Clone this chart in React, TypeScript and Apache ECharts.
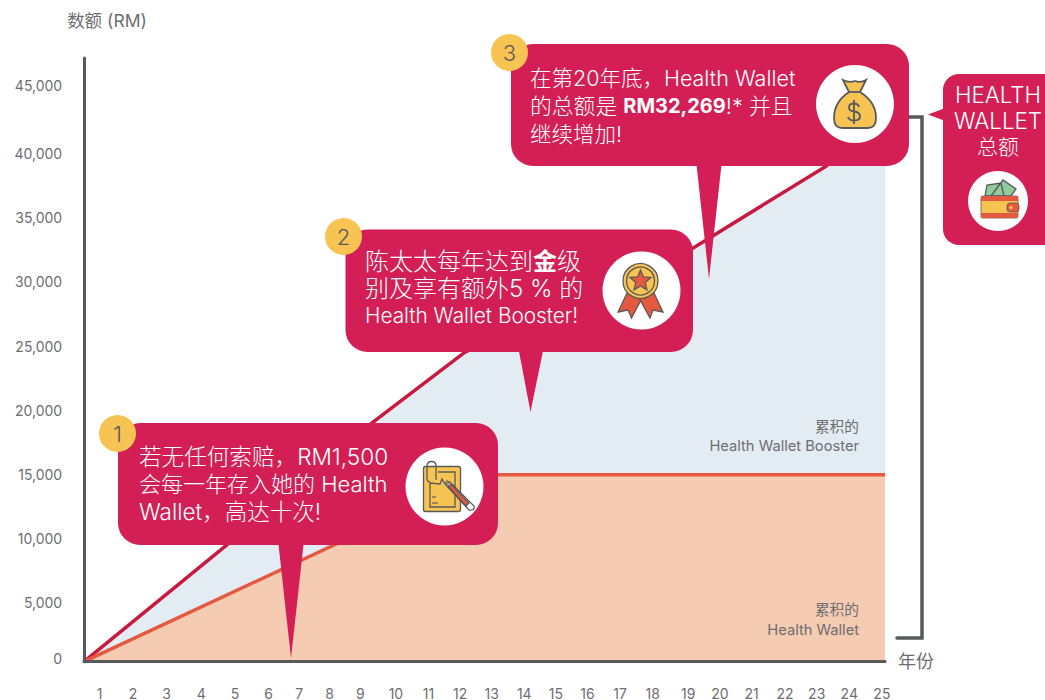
import React, { useEffect, useRef } from "react";
import * as echarts from "echarts";

const totalYears = [0, 4.45, 8.98, 11.89, 19.0, 23.16, 25];
const totalValues = [0, 9344, 19130, 24827, 33170, 39750, 43670];
const walletYears = [0, 12.5, 25];
const walletValues = [0, 15000, 15000];
const yearLabels = ["1","2","3","4","5","6","7","8","9","10","11","12","13","14","15","16","17","18","19","20","21","22","23","24","25"];
const yearLabelNudge = [-1,0,1,3,4,5,3,1,-1,2,2,1,0,0,-1,-2,-2,-2,1,0,-1,0,-1,-1,-1];
const amountTicks = [0, 5000, 10000, 15000, 20000, 25000, 30000, 35000, 40000, 45000, 50000];

const CRIMSON = "#d31f55";
const GREY = "#58595b";
const TXT = "#6d6e71";
const YEL = "#f7c353";
const RED = "#e4593f";
const FONT = "Inter, 'Noto Sans CJK SC', sans-serif";

const shapes: Record<string, string> = {
  bag: "M843 80 Q849 83 855 81 Q861 83 866 80 L860 92 Q876 102 876 118 Q876 128 868 128 L842 128 Q834 128 834 118 Q834 102 849 92 Z",
  bagNeck: "M848.5 92 H860.5",
  dollar: "M859 107 Q858 103.5 854 103.5 Q849 103.5 849 107.5 Q849 111 854 111.5 Q860 112 860 116.5 Q860 120.5 854 120.5 Q849 120.5 848 117 M854 100 V124",
  clip: "M430 482 Q427 482 427 478 V466 Q427 461.5 431.5 461.5 Q436 461.5 436 466 V480",
  paper: "M438 472 H455 V507 H430 V483 L440 484 L442 479 L445 484 L447 481 L451 483",
  marks: "M432 497 H436 M432 503 H438",
  wrap: "M446 485 L450 482 L474 506 Q475 511 469 510 Z",
  bills: "M985 196 L987 185 L1001 183 L1004 196 Z M991 196 L1003 180 L1016 189 L1011 196 Z",
};
Object.entries(shapes).forEach(([k, d]) =>
  echarts.graphic.registerShape(k, echarts.graphic.extendPath(d, {}))
);

const bubble = (x: number, y: number, w: number, h: number, tail: number[][]) => [
  { type: "polygon", shape: { points: tail }, style: { fill: CRIMSON } },
  { type: "rect", shape: { x, y, width: w, height: h, r: 22 }, style: { fill: CRIMSON } },
];
const badge = (cx: number, cy: number, n: string) => [
  { type: "circle", shape: { cx, cy, r: 18.5 }, style: { fill: YEL } },
  { type: "text", x: cx, y: cy, style: { text: n, fill: GREY, fontSize: 22, fontWeight: 300, fontFamily: FONT, align: "center", verticalAlign: "middle" } },
];
const white = (x: number, y: number, text: string, size = 21, align = "left", boldSize = size) => ({
  type: "text", x, y,
  style: {
    text, fill: "#fff", fontSize: size, fontWeight: 300, fontFamily: FONT, align, verticalAlign: "middle",
    rich: { b: { fontWeight: 700, fontSize: boldSize, fontFamily: FONT, fill: "#fff" } },
  },
});
const disc = (cx: number, cy: number, r: number) => ({ type: "circle", shape: { cx, cy, r }, style: { fill: "#fff" } });
const note = (y: number, text: string) => ({
  type: "text", x: 859, y,
  style: { text, fill: TXT, fontSize: 14.7, fontFamily: FONT, align: "right", verticalAlign: "middle" },
});
const starPoints = (cx: number, cy: number, R: number, r: number) => {
  const p: number[][] = [];
  for (let i = 0; i < 10; i++) {
    const a = -Math.PI / 2 + (i * Math.PI) / 5;
    const q = i % 2 ? r : R;
    p.push([cx + q * Math.cos(a), cy + q * Math.sin(a)]);
  }
  return p;
};
const ink = { stroke: GREY, lineWidth: 1.3 };

const elements: any[] = [
  { type: "polyline", shape: { points: [[905, 117], [922, 117], [922, 638], [897, 638]] }, style: { stroke: GREY, lineWidth: 3.5, fill: "none", lineCap: "round" } },
  note(427, "累积的"), note(446, "Health Wallet Booster"),
  note(610, "累积的"), note(630, "Health Wallet"),

  // bubble 3
  ...bubble(511, 44, 398, 122, [[696, 160], [722, 160], [709, 279]]),
  disc(855, 104, 39),
  { type: "bag", style: { fill: YEL, ...ink, lineWidth: 1.8 } },
  { type: "bagNeck", style: { fill: "none", ...ink, lineWidth: 1.8 } },
  { type: "dollar", style: { fill: "none", ...ink, lineWidth: 1.8 } },
  white(530, 78, "在第20年底，Health Wallet", 21.5),
  white(530, 106, "的总额是 {b|RM32,269}!* 并且", 21.8, "left", 20),
  white(530, 134, "继续增加!", 21.5),
  ...badge(509.5, 52.5, "3"),

  // bubble 2
  ...bubble(345.5, 229.5, 347.5, 122.5, [[518, 346], [544, 346], [530.5, 412]]),
  disc(641.5, 290.5, 39),
  { type: "polygon", shape: { points: [[628, 291], [618, 312], [628, 310], [631.5, 318], [642, 298]] }, style: { fill: RED, ...ink } },
  { type: "polygon", shape: { points: [[653, 291], [663, 312], [653, 310], [650, 318], [639, 298]] }, style: { fill: RED, ...ink } },
  { type: "circle", shape: { cx: 640.5, cy: 281, r: 17.5 }, style: { fill: YEL, ...ink } },
  { type: "circle", shape: { cx: 640.5, cy: 281, r: 14 }, style: { fill: YEL, ...ink } },
  { type: "polygon", shape: { points: starPoints(640.5, 281, 11, 5) }, style: { fill: RED, ...ink } },
  white(365, 261, "陈太太每年达到{b|金}级", 24),
  white(365, 288, "别及享有额外5 % 的", 24),
  white(365, 315, "Health Wallet Booster!", 20.8),
  ...badge(343.5, 236.5, "2"),

  // bubble 1
  ...bubble(118, 423, 380, 122, [[278, 540], [304, 540], [291, 658]]),
  disc(444.5, 486.5, 39),
  { type: "rect", shape: { x: 423.5, y: 466.5, width: 37, height: 45, r: 2 }, style: { fill: YEL, ...ink } },
  { type: "paper", style: { fill: "none", ...ink } },
  { type: "marks", style: { fill: "none", stroke: "#4a4a4a", lineWidth: 1.2 } },
  { type: "clip", style: { fill: "none", ...ink } },
  { type: "wrap", style: { fill: "#fff", ...ink } },
  { type: "polygon", shape: { points: [[448, 486], [451, 484], [469, 503], [466, 506]] }, style: { fill: RED, ...ink } },
  white(139, 456, "若无任何索赔，RM1,500", 22.6),
  white(139, 484, "会每一年存入她的 Health", 22),
  white(139, 511, "Wallet，高达十次!", 22.5),
  ...badge(117.5, 433.5, "1"),

  // wallet box
  { type: "polygon", shape: { points: [[928, 114.5], [948, 107], [948, 122]] }, style: { fill: CRIMSON } },
  { type: "rect", shape: { x: 943, y: 74, width: 130, height: 171, r: 16 }, style: { fill: CRIMSON } },
  white(998, 94, "HEALTH", 22.3, "center"),
  white(998, 120, "WALLET", 22.3, "center"),
  white(998, 146, "总额", 21, "center"),
  disc(998, 201, 30),
  { type: "bills", style: { fill: "#8fcb9b", ...ink } },
  { type: "rect", shape: { x: 981, y: 196, width: 37, height: 22, r: 1.5 }, style: { fill: YEL, ...ink, lineWidth: 0.8 } },
  { type: "rect", shape: { x: 981, y: 196, width: 37, height: 5 }, style: { fill: RED } },
  { type: "rect", shape: { x: 981, y: 213, width: 37, height: 5 }, style: { fill: RED } },
  { type: "rect", shape: { x: 1007, y: 203, width: 12, height: 9, r: 3 }, style: { fill: RED, ...ink, lineWidth: 0.8 } },
  { type: "circle", shape: { cx: 1011, cy: 207.5, r: 1.8 }, style: { fill: YEL } },
].map((e) => ({ ...e, z: 10, silent: true }));

const yRich: Record<string, any> = {
  n: { fontSize: 14, fontFamily: FONT, color: TXT },
  zero: { fontSize: 14, fontFamily: FONT, color: TXT, padding: [0, 0, 18, 0] },
  top: { fontSize: 14, fontFamily: FONT, color: TXT, padding: [0, 0, 7, 0] },
};
const xRich: Record<string, any> = {};
yearLabelNudge.forEach((s, i) => {
  xRich["y" + i] = {
    fontSize: 14, lineHeight: 12, fontFamily: FONT, color: TXT,
    padding: [0, s < 0 ? -2 * s : 0, 0, s > 0 ? 2 * s : 0],
  };
});

export default function App() {
  const ref = useRef<HTMLDivElement>(null);
  useEffect(() => {
    document.body.style.margin = "0";
    const chart = echarts.init(ref.current!, null, { renderer: "svg" });
    chart.setOption({
      animation: false,
      backgroundColor: "#fff",
      grid: [
        { left: 84, top: 58, width: 801, height: 603.7 },
        { left: 84.2, top: 25, width: 815, height: 642 },
      ],
      xAxis: [
        {
          gridIndex: 0, type: "value", min: 0, max: 25, z: 6, splitLine: { show: false },
          axisLabel: { show: false }, axisTick: { show: false },
          axisLine: { show: true, lineStyle: { color: GREY, width: 3 } },
          name: "年份", nameLocation: "end", nameGap: 13,
          nameTextStyle: { color: TXT, fontSize: 18, fontFamily: FONT, padding: [10, 0, 0, 0] },
        },
        {
          gridIndex: 1, type: "category", data: yearLabels, boundaryGap: true,
          axisLine: { show: false }, axisTick: { show: false }, splitLine: { show: false },
          axisLabel: {
            interval: 0, margin: 20, color: TXT, fontSize: 14, fontFamily: FONT,
            formatter: (v: string) => `{y${yearLabels.indexOf(v)}|${v}}`,
            rich: xRich,
          },
        },
      ],
      yAxis: [
        {
          gridIndex: 0, type: "value", min: 0, max: 48425, z: 6, splitLine: { show: false },
          axisLabel: { show: false }, axisTick: { show: false },
          axisLine: { show: true, lineStyle: { color: GREY, width: 3, cap: "round" } },
          name: "数额 (RM)", nameLocation: "end", nameGap: 29,
          nameTextStyle: { color: TXT, fontSize: 17.5, fontFamily: FONT, padding: [0, 0, 0, 46] },
        },
        {
          gridIndex: 1, type: "value", min: 0, max: 50000, interval: 5000,
          axisLine: { show: false }, axisTick: { show: false }, splitLine: { show: false },
          axisLabel: {
            margin: 22, color: TXT, fontSize: 14, fontFamily: FONT,
            formatter: (v: number) => {
              if (!amountTicks.includes(v) || v === 50000) return "";
              const s = v.toLocaleString("en-US");
              return v === 0 ? `{zero|${s}}` : v === 45000 ? `{top|${s}}` : `{n|${s}}`;
            },
            rich: yRich,
          },
        },
      ],
      series: [
        {
          type: "line", name: "Health Wallet Booster", xAxisIndex: 0, yAxisIndex: 0, z: 2,
          data: totalYears.map((x, i) => [x, totalValues[i]]),
          showSymbol: false, lineStyle: { color: "#c8193f", width: 3.5 },
          areaStyle: { color: "#e4ecf3", opacity: 1 },
        },
        {
          type: "line", name: "Health Wallet", xAxisIndex: 0, yAxisIndex: 0, z: 3,
          data: walletYears.map((x, i) => [x, walletValues[i]]),
          showSymbol: false, lineStyle: { color: RED, width: 3.5 },
          areaStyle: { color: "#f5cbb2", opacity: 1 },
        },
      ],
      graphic: { elements },
    });
    return () => chart.dispose();
  }, []);
  return <div ref={ref} style={{ width: 1045, height: 700 }} />;
}
